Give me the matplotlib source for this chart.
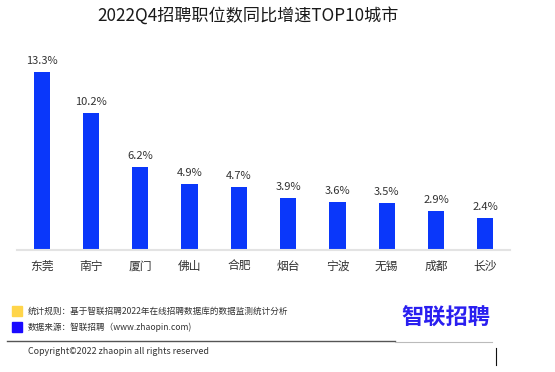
import matplotlib.pyplot as plt
from matplotlib.patches import Rectangle
from matplotlib.lines import Line2D

plt.rcParams['font.family'] = ['Noto Sans CJK SC', 'DejaVu Sans']

cities = ['东莞', '南宁', '厦门', '佛山', '合肥', '烟台', '宁波', '无锡', '成都', '长沙']
growth = [13.3, 10.2, 6.2, 4.9, 4.7, 3.9, 3.6, 3.5, 2.9, 2.4]

fig = plt.figure(figsize=(5.55, 3.72), dpi=100)
ax = fig.add_axes([17 / 555, 1 - 250 / 372, 493 / 555, 201 / 372])

x = range(len(cities))
ax.bar(x, growth, width=0.33, color='#0a37fa', zorder=2)
for i, v in zip(x, growth):
    ax.text(i, v + 0.45, f'{v}%', ha='center', va='bottom', fontsize=8, color='#333333')

ax.set_xlim(-0.5, len(cities) - 0.5)
ax.set_ylim(0, 15)
ax.set_xticks(list(x))
ax.set_xticklabels(cities, fontsize=8.5, color='#333333')
ax.tick_params(axis='x', length=0, pad=7)
ax.set_yticks([])
for s in ['top', 'right', 'left']:
    ax.spines[s].set_visible(False)
ax.spines['bottom'].set_color('#e3e3e3')
ax.spines['bottom'].set_linewidth(1.5)

# title
fig.text(248 / 555, 1 - 16 / 372, '2022Q4招聘职位数同比增速TOP10城市', ha='center', va='center',
         fontsize=12.3, fontweight='medium', color='#1a1a1a')

# footer
fig.patches.append(Rectangle((12 / 555, 1 - 316 / 372), 10 / 555, 10 / 372,
                             transform=fig.transFigure, color='#ffd54a'))
fig.patches.append(Rectangle((12 / 555, 1 - 332 / 372), 10 / 555, 10 / 372,
                             transform=fig.transFigure, color='#1a0aff'))
fig.text(28 / 555, 1 - 311 / 372, '统计规则：基于智联招聘2022年在线招聘数据库的数据监测统计分析',
         fontsize=6.2, va='center', color='#333333')
fig.text(28 / 555, 1 - 327 / 372, '数据来源：智联招聘（www.zhaopin.com)',
         fontsize=6.2, va='center', color='#333333')
fig.text(446 / 555, 1 - 318 / 372, '智联招聘', fontsize=16, fontweight='bold',
         ha='center', va='center', color='#2a1ff0')
fig.lines.append(Line2D([7 / 555, 395 / 555], [1 - 341 / 372, 1 - 341 / 372],
                        transform=fig.transFigure, color='#555555', lw=1))
fig.lines.append(Line2D([395 / 555, 492 / 555], [1 - 342 / 372, 1 - 342 / 372],
                        transform=fig.transFigure, color='#bbbbbb', lw=0.8))
fig.lines.append(Line2D([496 / 555, 496 / 555], [1 - 348 / 372, 1 - 365 / 372],
                        transform=fig.transFigure, color='#111111', lw=0.8))
fig.text(28 / 555, 1 - 352 / 372, 'Copyright©2022 zhaopin all rights reserved',
         fontsize=6.4, va='center', color='#333333')

fig.savefig('out.png', dpi=100)
